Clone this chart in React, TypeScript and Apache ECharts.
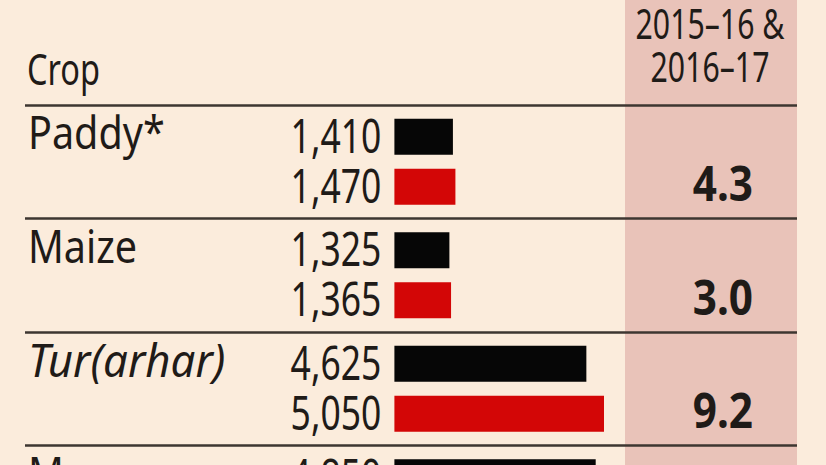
import React, { useEffect, useRef } from "react";
import * as echarts from "echarts";

const categories = ["Paddy*", "Maize", "Tur(arhar)", "Moong"];
const italicCrops = ["Tur(arhar)"];
const msp2015_16 = [1410, 1325, 4625, 4850];
const msp2016_17 = [1470, 1365, 5050, 5225];
const pctChange = ["4.3", "3.0", "9.2", "7.7"];
const headerLines = ["2015–16 &", "2016–17"];
const cropHeader = "Crop";

const FONT = '"Noto Sans", "DejaVu Sans", sans-serif';
const INK = "#1f1b18";
const BAR_W = 36;
const BAR_GAP = 14;

const fmt = (v: number) => String(v).replace(/\B(?=(\d{3})+(?!\d))/g, ",");

export default function App() {
  const ref = useRef<HTMLDivElement>(null);
  useEffect(() => {
    if (!ref.current) return;
    const chart = echarts.init(ref.current, undefined, { renderer: "svg" });
    const half = (BAR_W + BAR_GAP) / 2;
    chart.setOption({
      animation: false,
      backgroundColor: "#fbecdc",
      grid: { left: 25, right: 29, top: 105, bottom: 21, containLabel: false },
      xAxis: {
        type: "value",
        min: -8900,
        max: 9700,
        axisLine: { show: false },
        axisTick: { show: false },
        axisLabel: { show: false },
        splitLine: { show: false },
      },
      yAxis: {
        type: "category",
        data: categories,
        inverse: true,
        axisLine: { show: false },
        axisTick: { show: false },
        axisLabel: { show: false },
        splitLine: { show: true, interval: 0, lineStyle: { color: "#3d3631", width: 2.5 } },
      },
      graphic: [
        {
          type: "rect",
          z: -10,
          shape: { x: 625, y: 0, width: 172, height: 600 },
          style: { fill: "#e9c3b9" },
        },
        {
          type: "text",
          x: 27,
          y: 68,
          scaleX: 0.74,
          style: {
            text: cropHeader,
            fontFamily: FONT,
            fontSize: 44,
            fill: INK,
            verticalAlign: "middle",
          },
        },
        ...headerLines.map((t, i) => ({
          type: "text",
          x: 710,
          y: 23 + i * 43,
          scaleX: 0.72,
          style: {
            text: t,
            fontFamily: FONT,
            fontSize: 42,
            fill: INK,
            align: "center",
            verticalAlign: "middle",
          },
        })),
      ],
      series: [
        {
          type: "bar",
          data: msp2015_16,
          barWidth: BAR_W,
          barGap: (BAR_GAP / BAR_W) * 100 + "%",
          itemStyle: { color: "#060606" },
        },
        {
          type: "bar",
          data: msp2016_17,
          barWidth: BAR_W,
          itemStyle: { color: "#d30606" },
        },
        {
          type: "custom",
          name: "labels",
          z: 5,
          data: categories.map((c, i) => [msp2015_16[i], i, msp2016_17[i]]),
          encode: { x: 0, y: 1 },
          renderItem: (params: any, api: any) => {
            const i = api.value(1);
            const base = api.coord([0, i]);
            const name = categories[i];
            const italic = italicCrops.indexOf(name) >= 0;
            const valText = (v: number, dy: number) => ({
              type: "text",
              x: base[0] - 13,
              y: base[1] + dy,
              scaleX: 0.74,
              style: {
                text: fmt(v),
                fontFamily: FONT,
                fontSize: 48,
                fill: INK,
                align: "right",
                verticalAlign: "middle",
              },
            });
            return {
              type: "group",
              children: [
                {
                  type: "text",
                  x: 28,
                  y: base[1] - 30,
                  scaleX: italic ? 0.95 : 0.86,
                  style: {
                    text: name,
                    fontFamily: FONT,
                    fontSize: 46,
                    fontStyle: italic ? "italic" : "normal",
                    fill: INK,
                    align: "left",
                    verticalAlign: "middle",
                  },
                },
                valText(api.value(0), -half - 3),
                valText(api.value(2), half - 3),
                {
                  type: "text",
                  x: 753,
                  y: base[1] + 21,
                  scaleX: 0.88,
                  style: {
                    text: pctChange[i],
                    fontFamily: FONT,
                    fontSize: 48,
                    fontWeight: "bold",
                    fill: INK,
                    align: "right",
                    verticalAlign: "middle",
                  },
                },
              ],
            };
          },
        },
      ],
    });
    return () => chart.dispose();
  }, []);
  return (
    <div style={{ position: "fixed", left: 0, top: 0, width: 826, height: 465, overflow: "hidden" }}>
      <div ref={ref} style={{ width: 826, height: 580 }} />
    </div>
  );
}
